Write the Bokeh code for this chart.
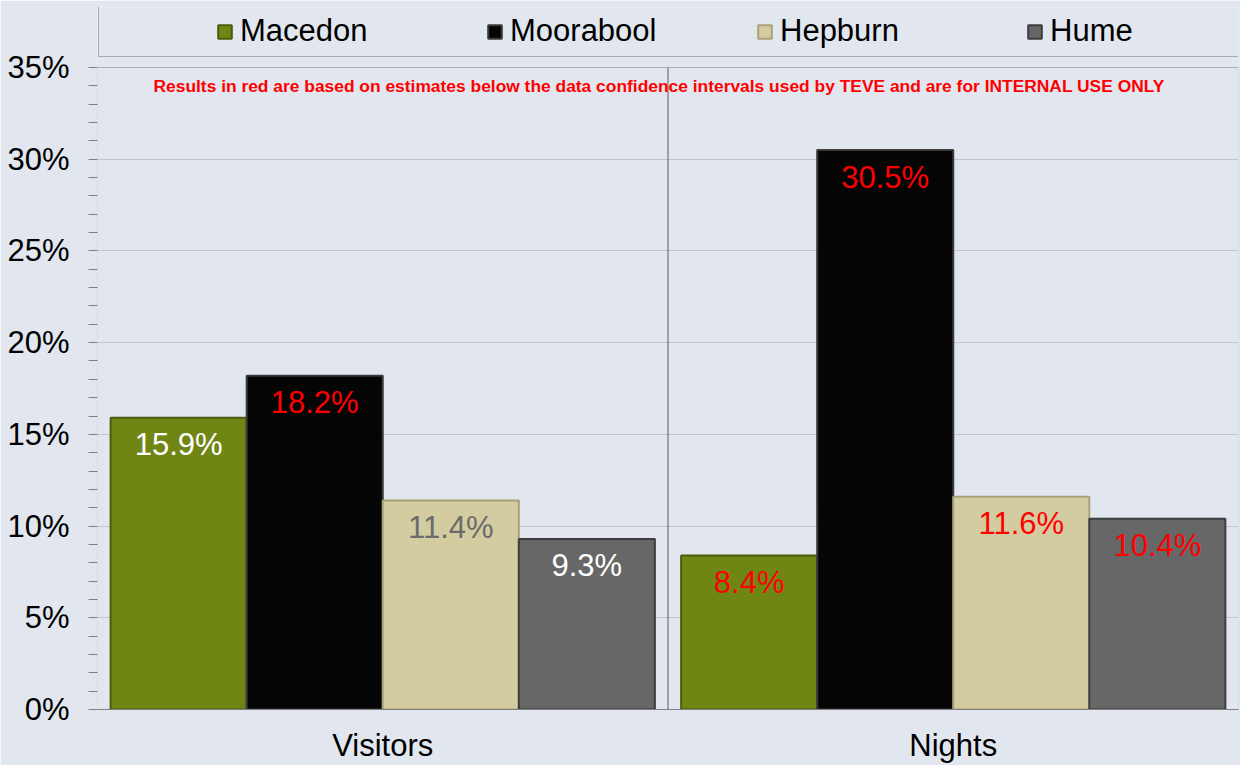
from bokeh.plotting import figure
from bokeh.models import (ColumnDataSource, Legend, LegendItem, BoxAnnotation,
                          PrintfTickFormatter, FactorRange, Range1d, Label, FixedTicker)
from bokeh.transform import dodge
from bokeh.core.properties import value
from bokeh.embed import file_html
from bokeh.resources import INLINE

# ---- data ----
categories = ["Visitors", "Nights"]
series = ["Macedon", "Moorabool", "Hepburn", "Hume"]
macedon = [15.9, 8.4]
moorabool = [18.2, 30.5]
hepburn = [11.4, 11.6]
hume = [9.3, 10.4]
values_by_series = [macedon, moorabool, hepburn, hume]
label_colors = [["#FFFFFF", "#FF0000"],
                ["#FF0000", "#FF0000"],
                ["#6B6B6B", "#FF0000"],
                ["#FFFFFF", "#FF0000"]]
y_ticks = [0, 5, 10, 15, 20, 25, 30, 35]
y_minor = [v for v in range(0, 36) if v % 5]
y_max = 35
fill_colors = ["#6F8615", "#050505", "#D3CCA1", "#676767"]
edge_colors = ["#4C5C0C", "#3A3A3A", "#A8A17C", "#3E3E3E"]
note = ("Results in red are based on estimates below the data confidence  intervals "
        "used by TEVE and are for INTERNAL USE ONLY")

FONT = "Liberation Sans"
BG = "#E1E6EF"

# frame spans from the legend box top down to the 0% baseline;
# the value axis itself covers 0..35% over the lower 642 px
FRAME_H, AXIS_H = 702, 642
p = figure(x_range=FactorRange(*categories, range_padding=0),
           y_range=Range1d(0, y_max * FRAME_H / AXIS_H),
           frame_width=1141, frame_height=FRAME_H,
           output_backend="svg", toolbar_location=None,
           min_border_left=97, min_border_right=2,
           min_border_top=7, min_border_bottom=56)
p.background_fill_color = BG
p.border_fill_color = BG
p.outline_line_color = None

# plot-area outline (0..35%)
p.add_layout(BoxAnnotation(bottom=0, top=y_max, fill_alpha=0,
                           line_color="#808080", line_width=1))

bar_w = 0.2385
offsets = [-1.5 * bar_w, -0.5 * bar_w, 0.5 * bar_w, 1.5 * bar_w]
items = []
for name, vals, off, fc, ec, lc in zip(series, values_by_series, offsets,
                                       fill_colors, edge_colors, label_colors):
    src = ColumnDataSource(dict(cat=categories, val=vals,
                                lab=["%.1f%%" % v for v in vals], col=lc))
    r = p.vbar(x=dodge("cat", off, range=p.x_range), top="val", width=bar_w,
               source=src, fill_color=fc, line_color=ec, line_width=2)
    p.text(x=dodge("cat", off, range=p.x_range), y="val", text="lab", source=src,
           text_color="col", text_font=value(FONT), text_font_size="31px",
           text_align="center", text_baseline="middle", y_offset=27)
    items.append(LegendItem(label=name, renderers=[r]))

# divider between the two categories (from baseline to 35%)
p.segment(x0=[1.0], y0=[0], x1=[1.0], y1=[y_max], line_color="#5A5A5A", line_width=1)

# axes
ticker = FixedTicker(ticks=y_ticks, minor_ticks=y_minor)
p.xgrid.grid_line_color = None
p.yaxis.ticker = ticker
p.ygrid.ticker = ticker
p.ygrid.grid_line_color = "#C2C5CB"
p.yaxis.formatter = PrintfTickFormatter(format="%d%%")
p.yaxis.major_label_text_font = FONT
p.yaxis.major_label_text_font_size = "31px"
p.yaxis.major_label_text_color = "#000000"
p.yaxis.axis_line_color = None
p.yaxis.major_tick_line_color = "#808080"
p.yaxis.minor_tick_line_color = "#808080"
p.yaxis.major_tick_in = 0
p.yaxis.major_tick_out = 9
p.yaxis.minor_tick_in = 0
p.yaxis.minor_tick_out = 9
p.yaxis.major_label_standoff = 19

p.xaxis.major_label_text_font = FONT
p.xaxis.major_label_text_font_size = "31px"
p.xaxis.major_label_text_color = "#000000"
p.xaxis.axis_line_color = "#808080"
p.xaxis.major_tick_line_color = None
p.xaxis.minor_tick_line_color = None
p.xaxis.major_tick_out = 0
p.xaxis.major_tick_in = 0
p.xaxis.major_label_standoff = 18

# note
p.add_layout(Label(x=564, y=624, x_units="screen", y_units="screen", text=note,
                   text_color="#FF0000", text_font=FONT, text_font_style="bold",
                   text_font_size="17.4px", text_align="center", text_baseline="middle"))

# legend (boxed, at the top of the frame)
legend = Legend(items=items, orientation="horizontal", location=(1, 652),
                spacing=63, padding=7, margin=0,
                glyph_width=17, glyph_height=17, label_standoff=7, label_width=183,
                label_text_font=FONT, label_text_font_size="31px",
                label_text_color="#000000",
                title=" ", title_location="left", title_text_font_size="1px",
                title_standoff=109,
                border_line_color="#6E6E6E", border_line_width=1.5,
                background_fill_alpha=0)
p.add_layout(legend)

open("out.html", "w").write(file_html(p, INLINE))
